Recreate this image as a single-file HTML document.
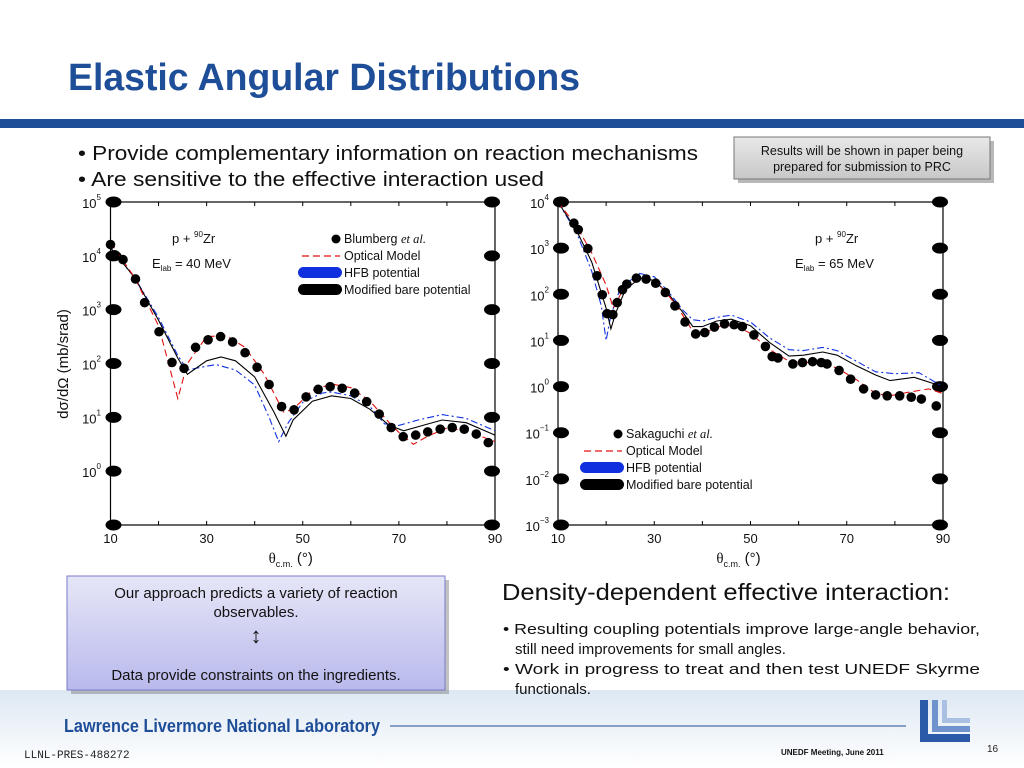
<!DOCTYPE html>
<html><head><meta charset="utf-8">
<style>
html,body{margin:0;padding:0;background:#fff;}
svg{display:block;font-family:"Liberation Sans",sans-serif;}
</style></head>
<body>
<svg id="slide" width="1024" height="768" viewBox="0 0 1024 768" xmlns="http://www.w3.org/2000/svg">
<defs>
<linearGradient id="foot" x1="0" y1="0" x2="0" y2="1"><stop offset="0" stop-color="#dde8f3"/><stop offset="1" stop-color="#ffffff"/></linearGradient>
<linearGradient id="box" x1="0" y1="0" x2="0" y2="1"><stop offset="0" stop-color="#e6e6f8"/><stop offset="1" stop-color="#b9b9ec"/></linearGradient>
<linearGradient id="gbox" x1="0" y1="0" x2="0" y2="1"><stop offset="0" stop-color="#e8e8e8"/><stop offset="1" stop-color="#c8c8c8"/></linearGradient>
</defs>
<rect x="0" y="690" width="1024" height="78" fill="url(#foot)"/>
<text x="68" y="90" font-family="'Liberation Sans Narrow','Liberation Sans',sans-serif" font-weight="bold" font-size="38" fill="#1f4e99" textLength="512" lengthAdjust="spacingAndGlyphs">Elastic Angular Distributions</text>
<rect x="0" y="119" width="1024" height="9" fill="#1f4e99"/>
<text x="78" y="160" font-size="20" fill="#111" textLength="620" lengthAdjust="spacingAndGlyphs">• Provide complementary information on reaction mechanisms</text>
<text x="78" y="186" font-size="20" fill="#111" textLength="466" lengthAdjust="spacingAndGlyphs">• Are sensitive to the effective interaction used</text>
<rect x="738" y="141" width="256" height="42" fill="#888" opacity="0.6"/>
<rect x="734" y="137" width="256" height="42" fill="url(#gbox)" stroke="#777" stroke-width="1"/>
<text x="862" y="155" font-size="12.5" text-anchor="middle" fill="#111">Results will be shown in paper being</text>
<text x="862" y="171" font-size="12.5" text-anchor="middle" fill="#111">prepared for submission to PRC</text>

<g id="chartL"></g>
<g id="chartR"></g>

<rect x="71" y="580" width="378" height="114" fill="#777" opacity="0.45"/>
<rect x="67" y="576" width="378" height="114" fill="url(#box)" stroke="#7a7ac8" stroke-width="1"/>
<text x="256" y="598" font-size="15" text-anchor="middle" fill="#111">Our approach predicts a variety of reaction</text>
<text x="256" y="617" font-size="15" text-anchor="middle" fill="#111">observables.</text>
<text x="256" y="643" font-size="22" text-anchor="middle" fill="#111">↕</text>
<text x="256" y="680" font-size="15" text-anchor="middle" fill="#111">Data provide constraints on the ingredients.</text>

<text x="502" y="600" font-size="23" fill="#111" textLength="448" lengthAdjust="spacingAndGlyphs">Density-dependent effective interaction:</text>
<g font-size="15" fill="#111">
<text x="503" y="634" textLength="477" lengthAdjust="spacingAndGlyphs">• Resulting  coupling  potentials  improve  large-angle  behavior,</text>
<text x="515" y="654">still need improvements for small angles.</text>
<text x="503" y="674" textLength="477" lengthAdjust="spacingAndGlyphs">• Work  in  progress  to  treat  and  then  test  UNEDF  Skyrme</text>
<text x="515" y="694">functionals.</text>
</g>

<text x="64" y="732" font-family="'Liberation Sans Narrow','Liberation Sans',sans-serif" font-weight="bold" font-size="18" fill="#1f4e99" textLength="316" lengthAdjust="spacingAndGlyphs">Lawrence Livermore National Laboratory</text>
<line x1="390" y1="726" x2="906" y2="726" stroke="#1f4e99" stroke-width="1"/>
<text x="24" y="758" font-family="'Liberation Mono',monospace" font-size="11" fill="#222">LLNL-PRES-488272</text>
<text x="781" y="755" font-size="8" font-weight="bold" fill="#111">UNEDF Meeting, June 2011</text>
<text x="987" y="752" font-size="10" fill="#222">16</text>
<g fill="#2b5ba8">
<path d="M920 700h8v34h42v8h-50z"/>
<path d="M932 700h6v26h32v6h-38z" fill="#6f93cc"/>
<path d="M942 700h5v18h23v5h-28z" fill="#a9c0e3"/>
</g>

<script>
// ---- Left chart data (40 MeV) ----
const L_expAngles=[10,10.9,12.6,15.2,17.1,20.1,22.8,25.3,27.7,30.3,32.9,35.4,38,40.5,43,45.6,48.2,50.7,53.2,55.7,58.2,60.8,63.3,65.9,68.4,70.9,73.5,76,78.6,81.1,83.6,86.1,88.6];
const L_expLog=[4.21,4.02,3.93,3.57,3.13,2.59,2.02,1.91,2.30,2.44,2.50,2.40,2.20,1.93,1.61,1.20,1.14,1.38,1.52,1.57,1.54,1.45,1.29,1.06,0.81,0.64,0.67,0.73,0.78,0.81,0.78,0.69,0.53];
const L_omAngles=[10,15,20,24,26,30,34,38,42,46,48,52,56,60,64,68,70,73,76,80,84,90];
const L_omLog=[4.25,3.6,2.7,1.35,2.0,2.5,2.52,2.3,1.8,1.1,1.15,1.5,1.62,1.55,1.3,0.9,0.72,0.5,0.65,0.8,0.75,0.55];
const L_mbAngles=[10,15,20,24,26,30,33,36,40,44,46.5,48,52,56,60,64,68,71,75,79,84,90];
const L_mbLog=[4.15,3.6,2.8,2.1,1.8,2.05,2.12,2.05,1.75,1.1,0.65,0.95,1.3,1.4,1.35,1.15,0.85,0.75,0.85,0.95,0.9,0.67];
const L_hfbAngles=[10,15,20,24,26,30,32,36,40,43,45,47,50,54,56,60,64,67,70,74,79,84,90];
const L_hfbLog=[4.15,3.6,2.85,2.15,1.88,1.95,1.98,1.88,1.6,1.0,0.55,0.9,1.28,1.45,1.47,1.4,1.2,0.88,0.85,0.95,1.05,0.98,0.75];
const L_yTicks=[5,4,3,2,1,0];
const L_xTicks=[10,30,50,70,90];
// ---- Right chart data (65 MeV) ----
const R_expAngles=[10,13.3,14.2,16.2,18.1,19.2,20.2,21.4,22.3,23.4,24.3,26.3,28.3,30.3,32.3,34.3,36.4,38.6,40.5,42.5,44.6,46.6,48.3,50.7,53.1,54.5,55.7,58.8,60.8,62.9,64.7,65.9,68.4,70.8,73.5,76,78.4,81,83.4,85.5,88.6];
const R_expLog=[4.0,3.54,3.40,2.99,2.40,1.99,1.58,1.56,1.82,2.10,2.22,2.35,2.33,2.24,2.04,1.75,1.40,1.14,1.17,1.29,1.36,1.34,1.30,1.12,0.87,0.65,0.62,0.49,0.52,0.54,0.52,0.49,0.35,0.16,-0.05,-0.18,-0.20,-0.20,-0.23,-0.27,-0.42];
const R_omAngles=[10,14,17,20,21.5,23,26,29,32,35,38,40,44,47,50,54,58,62,65,68,72,76,79,83,87,90];
const R_omLog=[4.0,3.45,2.9,2.2,1.7,2.0,2.35,2.35,2.1,1.7,1.2,1.15,1.32,1.32,1.15,0.8,0.55,0.52,0.5,0.4,0.15,-0.15,-0.2,-0.12,-0.05,-0.15];
const R_mbAngles=[10,14,17,20,21,22,24,27,30,33,36,38,40,43,46,50,54,58,61,65,68,72,76,79,84,90];
const R_mbLog=[4.0,3.35,2.7,1.7,1.25,1.6,2.1,2.35,2.3,2.0,1.6,1.3,1.3,1.42,1.46,1.32,0.95,0.66,0.68,0.75,0.68,0.45,0.25,0.13,0.2,0.0];
const R_hfbAngles=[10,14,17,19,20,21,23,27,30,33,36,38,40,43,46,50,54,58,61,65,68,72,76,80,85,90];
const R_hfbLog=[4.0,3.3,2.5,1.75,1.0,1.55,2.15,2.45,2.38,2.05,1.65,1.45,1.42,1.5,1.55,1.4,1.05,0.8,0.78,0.85,0.78,0.55,0.32,0.28,0.3,0.0];
const R_yTicks=[4,3,2,1,0,-1,-2,-3];
const R_xTicks=[10,30,50,70,90];

const NS='http://www.w3.org/2000/svg';
function mk(parent,tag,attrs){const e=document.createElementNS(NS,tag);for(const k in attrs)e.setAttribute(k,attrs[k]);parent.appendChild(e);return e;}

function drawChart(g,cfg){
  const sx=a=>cfg.x0+(a-10)/80*(cfg.x1-cfg.x0);
  const sy=l=>cfg.y0+(cfg.ymax-l)/(cfg.ymax-cfg.ymin)*(cfg.y1-cfg.y0);
  const frame=mk(g,'rect',{x:cfg.x0,y:cfg.y0,width:cfg.x1-cfg.x0,height:cfg.y1-cfg.y0,fill:'none',stroke:'#000','stroke-width':1.2});
  
  
  // minor x ticks
  for(let a=10;a<=90;a+=10){
    const t=mk(g,'line',{x1:sx(a),x2:sx(a),y1:cfg.y1,y2:cfg.y1-4,stroke:'#000'});
    
    
    const t2=mk(g,'line',{x1:sx(a),x2:sx(a),y1:cfg.y0,y2:cfg.y0+4,stroke:'#000'});
    
    
  }
  cfg.xTicks.forEach(a=>{
    const t=mk(g,'text',{x:sx(a),y:cfg.y1+18,'font-size':13,'text-anchor':'middle',fill:'#111'});
    t.textContent=a;
    
    
  });
  const ticksAll=cfg.yTicks.concat(cfg.extraMarker);
  ticksAll.forEach(l=>{
    [cfg.x0+3,cfg.x1-3].forEach(x=>{
      const e=mk(g,'ellipse',{cx:x,cy:sy(l),rx:8,ry:5.5,fill:'#000'});
      
      
    });
  });
  cfg.yTicks.forEach(l=>{
    const t=mk(g,'text',{x:cfg.labX,y:sy(l)+6,'font-size':13,'text-anchor':'end',fill:'#111'});
    t.textContent='10';
    const s=mk(t,'tspan',{dy:-8,'font-size':8});
    s.textContent=String(l).replace('-','\u2212');
    
    
  });
  const path=(xs,ys)=>xs.map((a,i)=>(i?'L':'M')+sx(a).toFixed(1)+' '+sy(ys[i]).toFixed(1)).join(' ');
  const hfb=mk(g,'path',{d:path(cfg.hfbA,cfg.hfbL),fill:'none',stroke:'#1030e0','stroke-width':1.1,'stroke-dasharray':'7 3 2 3'});
  
  
  const mb=mk(g,'path',{d:path(cfg.mbA,cfg.mbL),fill:'none',stroke:'#000','stroke-width':1.1});
  
  
  const om=mk(g,'path',{d:path(cfg.omA,cfg.omL),fill:'none',stroke:'#e01010','stroke-width':1.1,'stroke-dasharray':'7 4'});
  
  
  cfg.expA.forEach((a,i)=>{
    const c=mk(g,'circle',{cx:sx(a),cy:sy(cfg.expL[i]),r:4.8,fill:'#000'});
    
    
  });
  // x label
  const xl=mk(g,'text',{x:(cfg.x0+cfg.x1)/2-12,y:cfg.y1+38,'font-size':15,'text-anchor':'middle',fill:'#111','font-family':'Liberation Serif,serif'});
  xl.textContent='θ';
  const sb=mk(xl,'tspan',{dy:4,'font-size':9,'font-family':'Liberation Sans,sans-serif'});sb.textContent='c.m.';
  const pr=mk(xl,'tspan',{dy:-4,'font-size':15,'font-family':'Liberation Sans,sans-serif'});pr.textContent=' (°)';
  
  
  // reaction label
  const r1=mk(g,'text',{x:cfg.rx,y:cfg.ry,'font-size':13,fill:'#111'});
  r1.textContent='p + ';
  const sup=mk(r1,'tspan',{dy:-6,'font-size':8});sup.textContent='90';
  const zr=mk(r1,'tspan',{dy:6});zr.textContent='Zr';
  
  
  const r2=mk(g,'text',{x:cfg.rx-20,y:cfg.ry+25,'font-size':13,fill:'#111'});
  r2.textContent='E';
  const ls=mk(r2,'tspan',{dy:3,'font-size':8});ls.textContent='lab';
  const en=mk(r2,'tspan',{dy:-3});en.textContent=' = '+cfg.energy;
  
  
  // legend
  const lx=cfg.legX, ly=cfg.legY;
  const lg=mk(g,'g',{});
  
  
  const d=mk(lg,'circle',{cx:lx+38,cy:ly,r:4.5,fill:'#000'});
  const t1=mk(lg,'text',{x:lx+46,y:ly+4,'font-size':12.5,fill:'#111'});
  t1.textContent=cfg.expName+' ';
  const it=mk(t1,'tspan',{'font-style':'italic','font-family':'Liberation Serif,serif'});it.textContent='et al.';
  
  
  mk(lg,'line',{x1:lx+4,x2:lx+42,y1:ly+17,y2:ly+17,stroke:'#e01010','stroke-width':1.2,'stroke-dasharray':'7 4'});
  const t2=mk(lg,'text',{x:lx+46,y:ly+21,'font-size':12.5,fill:'#111'});t2.textContent='Optical Model';
  
  
  mk(lg,'rect',{x:lx,y:ly+28,width:44,height:11,rx:5.5,fill:'#1030e0'});
  const t3=mk(lg,'text',{x:lx+46,y:ly+38,'font-size':12.5,fill:'#111'});t3.textContent='HFB potential';
  
  
  mk(lg,'rect',{x:lx,y:ly+45,width:44,height:11,rx:5.5,fill:'#000'});
  const t4=mk(lg,'text',{x:lx+46,y:ly+55,'font-size':12.5,fill:'#111'});t4.textContent='Modified bare potential';
  
  
}

drawChart(document.getElementById('chartL'),{x0:110.5,x1:495,y0:202,y1:525,ymax:5,ymin:-1,
  xTicks:L_xTicks,yTicks:L_yTicks,extraMarker:[-1],labX:101,
  expA:L_expAngles,expL:L_expLog,omA:L_omAngles,omL:L_omLog,mbA:L_mbAngles,mbL:L_mbLog,hfbA:L_hfbAngles,hfbL:L_hfbLog,
  rx:172,ry:243,energy:'40 MeV',legX:298,legY:239,expName:'Blumberg'});
drawChart(document.getElementById('chartR'),{x0:558,x1:943,y0:202,y1:525,ymax:4,ymin:-3,
  xTicks:R_xTicks,yTicks:R_yTicks,extraMarker:[],labX:549,
  expA:R_expAngles,expL:R_expLog,omA:R_omAngles,omL:R_omLog,mbA:R_mbAngles,mbL:R_mbLog,hfbA:R_hfbAngles,hfbL:R_hfbLog,
  rx:815,ry:243,energy:'65 MeV',legX:580,legY:434,expName:'Sakaguchi'});

// y-axis title (left chart)
const yt=document.createElementNS(NS,'text');
yt.setAttribute('transform','translate(68,364) rotate(-90)');
yt.setAttribute('font-size','15');yt.setAttribute('text-anchor','middle');yt.setAttribute('fill','#111');
yt.textContent='dσ/dΩ (mb/srad)';


document.getElementById('chartL').appendChild(yt);
</script>
</svg>
</body></html>
